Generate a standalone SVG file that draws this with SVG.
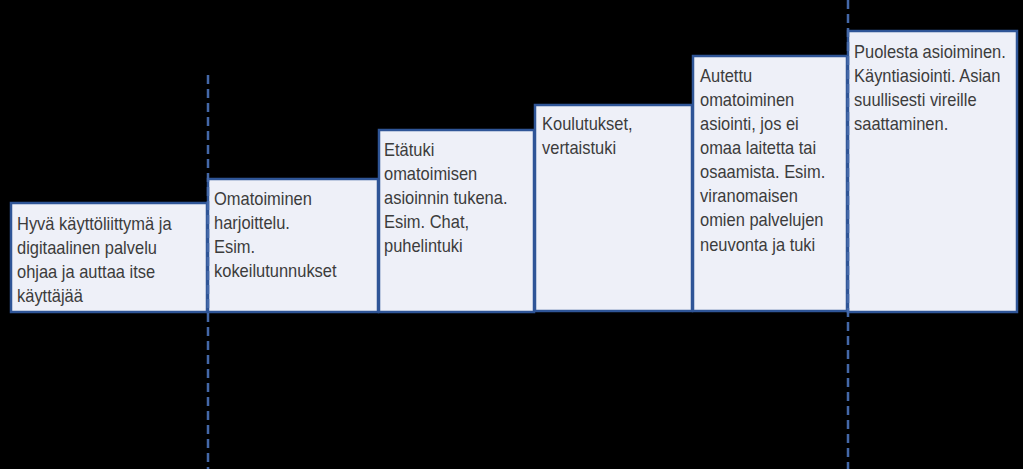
<svg xmlns="http://www.w3.org/2000/svg" width="1023" height="469" viewBox="0 0 1023 469">
<style>
.box{fill:#eef0f8;stroke:#2f5597;stroke-width:2.5}
.t{font-family:"Liberation Sans",Arial,sans-serif;font-size:18.5px;fill:#3c3c3c}
.dash{stroke:#4468a8;stroke-width:2.5;stroke-dasharray:9 5;fill:none}
</style>
<rect x="0" y="0" width="1023" height="469" fill="#000"/>
<g id="box1">
<rect class="box" x="11" y="203" width="196" height="109"/>
<text class="t" transform="translate(17 0) scale(0.89 1)"><tspan x="0" y="230">Hyvä käyttöliittymä ja</tspan><tspan x="0" y="254">digitaalinen palvelu</tspan><tspan x="0" y="278">ohjaa ja auttaa itse</tspan><tspan x="0" y="302">käyttäjää</tspan></text>
</g>
<g id="box2">
<rect class="box" x="208" y="179" width="170" height="133"/>
<text class="t" transform="translate(214 0) scale(0.89 1)"><tspan x="0" y="205">Omatoiminen</tspan><tspan x="0" y="229">harjoittelu.</tspan><tspan x="0" y="253">Esim.</tspan><tspan x="0" y="277">kokeilutunnukset</tspan></text>
</g>
<g id="box3">
<rect class="box" x="379" y="130" width="155" height="182"/>
<text class="t" transform="translate(384 0) scale(0.89 1)"><tspan x="0" y="156">Etätuki</tspan><tspan x="0" y="180">omatoimisen</tspan><tspan x="0" y="204">asioinnin tukena.</tspan><tspan x="0" y="228">Esim. Chat,</tspan><tspan x="0" y="252">puhelintuki</tspan></text>
</g>
<g id="box4">
<rect class="box" x="535" y="105" width="157" height="206"/>
<text class="t" transform="translate(542 0) scale(0.89 1)"><tspan x="0" y="130">Koulutukset,</tspan><tspan x="0" y="154">vertaistuki</tspan></text>
</g>
<g id="box5">
<rect class="box" x="693" y="56" width="154" height="255"/>
<text class="t" transform="translate(700 0) scale(0.89 1)"><tspan x="0" y="82">Autettu</tspan><tspan x="0" y="106">omatoiminen</tspan><tspan x="0" y="130">asiointi, jos ei</tspan><tspan x="0" y="154">omaa laitetta tai</tspan><tspan x="0" y="178">osaamista. Esim.</tspan><tspan x="0" y="202">viranomaisen</tspan><tspan x="0" y="226">omien palvelujen</tspan><tspan x="0" y="251">neuvonta ja tuki</tspan></text>
</g>
<g id="box6">
<rect class="box" x="848" y="31" width="169" height="281"/>
<text class="t" transform="translate(854 0) scale(0.89 1)"><tspan x="0" y="58">Puolesta asioiminen.</tspan><tspan x="0" y="82">Käyntiasiointi. Asian</tspan><tspan x="0" y="106">suullisesti vireille</tspan><tspan x="0" y="130">saattaminen.</tspan></text>
</g>
<g id="connectors">
<line class="dash" x1="208" y1="75" x2="208" y2="469"/>
<line class="dash" x1="848" y1="0" x2="848" y2="469"/>
</g>
</svg>
